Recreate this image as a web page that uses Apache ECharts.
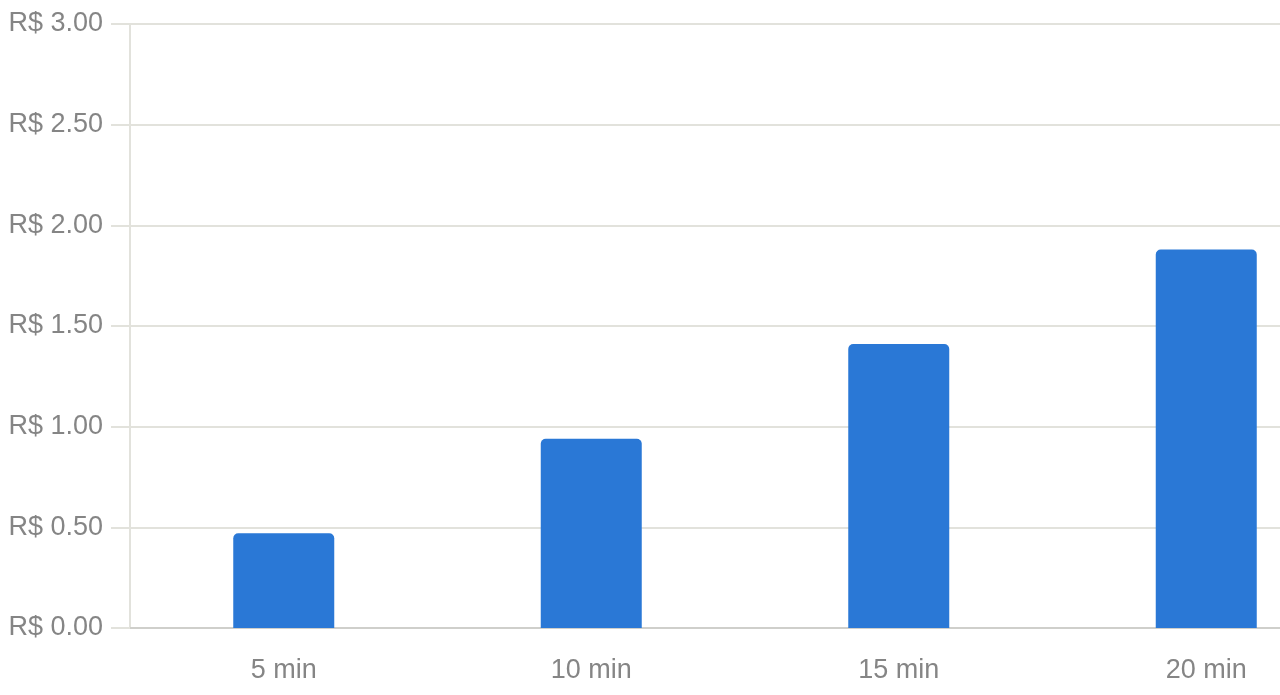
<!DOCTYPE html>
<html><head><meta charset="utf-8">
<script src="https://cdn.jsdelivr.net/npm/echarts@6/dist/echarts.min.js"></script>
<style>html,body{margin:0;padding:0;background:#fff;overflow:hidden;width:1280px;height:695px}#c{width:1360px;height:695px}</style>
</head><body><div id="c"></div>
<script>
const categories = ['5 min', '10 min', '15 min', '20 min'];
const values = [0.47, 0.94, 1.41, 1.88];
const chart = echarts.init(document.getElementById('c'), null, {renderer: 'canvas'});
const font = '"Liberation Sans", Arial, sans-serif';
chart.setOption({
  animation: false,
  grid: {left: 130, right: 0, top: 24, bottom: 67, containLabel: false},
  xAxis: {
    type: 'category', data: categories,
    axisLine: {show: true, lineStyle: {color: '#cfcfcb', width: 2}},
    axisTick: {show: false},
    axisLabel: {color: '#858585', fontSize: 27, fontFamily: font, margin: 29}
  },
  yAxis: {
    type: 'value', min: 0, max: 3, interval: 0.5,
    axisLine: {show: true, lineStyle: {color: '#e2e2dc', width: 2}},
    axisTick: {show: true, length: 19, lineStyle: {color: '#e2e2dc', width: 2}},
    splitLine: {show: true, lineStyle: {color: '#e2e2dc', width: 2}},
    axisLabel: {color: '#858585', fontSize: 27, fontFamily: font, margin: 27, padding: [3, 0, 0, 0],
      formatter: v => 'R$ ' + v.toFixed(2)}
  },
  series: [{
    type: 'bar', data: values, barWidth: 101,
    itemStyle: {color: '#2a78d6', borderRadius: [5, 5, 0, 0]}
  }]
});
</script></body></html>
